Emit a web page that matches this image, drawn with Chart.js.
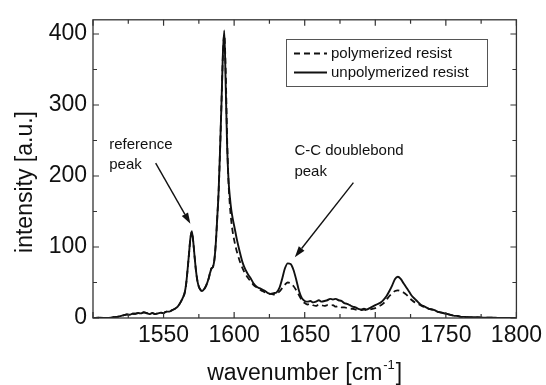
<!DOCTYPE html>
<html><head><meta charset="utf-8">
<script src="https://cdn.jsdelivr.net/npm/chart.js@4.4.0/dist/chart.umd.min.js"></script>
<style>html,body{margin:0;padding:0;background:#fff;}#wrap{width:546px;height:385px;}</style>
</head><body><div id="wrap"><canvas id="c" width="546" height="385"></canvas></div>
<script>
// wavenumber [cm^-1]
const wavenumbers = [
  1500,1505,1510,1514,1518,1520,1522,1524,1526,1528,
  1530,1532,1534,1536,1538,1540,1542,1544,1546,1548,
  1550,1552,1554,1556,1558,1560,1562,1564,
  1565,1566,1567,1568,1569,1570,1571,1572,1573,1574,
  1575,1576,1577,1578,1580,1582,1583,1584,1585,1586,
  1587,1588,1589,1590,1591,1592,1593,1594,1595,1596,
  1597,1598,1599,1600,1601,1602,
  1604,1606,1608,1610,1612,1614,1616,1618,1620,1622,
  1624,1626,1628,1630,1632,1634,1636,1638,1640,1642,
  1644,1646,1648,1650,1652,1654,1656,1658,1660,1662,
  1664,1666,1668,1670,1672,1674,1676,1678,1680,1682,
  1684,1686,1688,1690,1692,1694,1696,1698,1700,1702,
  1704,1706,1708,1710,1712,1714,1716,1718,1720,1722,
  1724,1726,1728,1730,1732,1734,1736,1738,1740,1742,
  1744,1746,1748,1750,1752,1754,1756,1758,1760,
  1764,1768,1772,1776,1780,1785,1790,1795,1800
];
const unpolymerized = [
  0,0.5,0,1,2,3,4,5,4.5,6,
  6,7,6.5,8,7,5.5,7,5.5,6.5,7.5,
  7,9,9,11,13,16,22,30,
  36,48,68,90,112,122,108,86,66,52,
  44,40,38,39,45,56,64,70,72,82,
  105,140,178,235,300,370,405,330,245,195,
  170,152,140,130,120,110,
  93,78,68,61,55,48,44,42,40,38,
  35,34,35,36,42,55,70,77,76,68,
  54,38,28,24,23,24,22,23,25,23,
  24,25,27,26,27,25,24,21,20,18,
  16,15,13,12,13,12,14,16,18,20,
  22,26,31,38,46,55,58,55,49,43,
  37,31,27,23,19,17,15,13,12,11,
  9,8,7,6,5,4,3,3,2,
  1.5,1,1,0.5,0.5,0.3,0,0.2,0
];
const polymerized = [
  0,0.5,0,1,2,3,4,5,4.5,6,
  6,7,6.5,8,7,5.5,7,5.5,6.5,7.5,
  7,9,9,11,13,16,22,30,
  36,48,68,90,112,122,108,86,66,52,
  44,40,38,39,45,56,64,70,72,82,
  105,140,178,235,300,368,399,350,255,192,
  158,136,121,110,101,93,
  80,70,62,56,51,46,43,40,38,36,
  34,34,33,34,37,42,47,50,49,45,
  39,32,25,21,19,20,18,17,19,18,
  17,18,17,18,16,17,15,15,14,13,
  13,12,12,11,12,11,12,13,14,16,
  18,21,26,31,35,38,39,38,36,33,
  29,25,22,20,18,16,14,13,12,11,
  9,8,7,6,5,4,3,3,2,
  1.5,1,1,0.5,0.5,0.3,0,0.2,0
];
const seriesNames = ['polymerized resist', 'unpolymerized resist'];
const xTickLabels = [1550, 1600, 1650, 1700, 1750, 1800];
const yTickLabels = [0, 100, 200, 300, 400];
const xMinorTicks = [1500,1525,1550,1575,1600,1625,1650,1675,1700,1725,1750,1775,1800];
const yMinorTicks = [0,50,100,150,200,250,300,350,400];

const FONT = "'Liberation Sans', Arial, Helvetica, sans-serif";
const INK = '#111';

// annotation texts anchored in data coordinates
const notes = [
  {lines: ['reference', 'peak'], at: [1511.5, 244.5], lineGap: 20.5,
   arrowFrom: [1544.4, 218], arrowTo: [1569, 132.6]},
  {lines: ['C-C doublebond', 'peak'], at: [1642.7, 235], lineGap: 20.5,
   arrowFrom: [1684.5, 190.6], arrowTo: [1643, 85.7]}
];

function arrow(ctx, x1, y1, x2, y2) {
  ctx.beginPath(); ctx.moveTo(x1, y1);
  const a = Math.atan2(y2 - y1, x2 - x1);
  const L = 11, W = 3.6;
  const bx = x2 - L * Math.cos(a), by = y2 - L * Math.sin(a);
  ctx.lineTo(bx, by); ctx.stroke();
  ctx.beginPath();
  ctx.moveTo(x2, y2);
  ctx.lineTo(bx + W * Math.sin(a), by - W * Math.cos(a));
  ctx.lineTo(bx - W * Math.sin(a), by + W * Math.cos(a));
  ctx.closePath(); ctx.fill();
}

const decor = {
  id: 'decor',
  afterDatasetsDraw(chart) {
    const {ctx, chartArea: ca, scales: {x, y}} = chart;
    ctx.save();
    // frame
    ctx.strokeStyle = '#333'; ctx.lineWidth = 1.3;
    ctx.strokeRect(ca.left, ca.top, ca.right - ca.left, ca.bottom - ca.top);
    // inward ticks
    ctx.lineWidth = 1.2; ctx.strokeStyle = '#333';
    ctx.beginPath();
    xMinorTicks.forEach(v => {
      const px = x.getPixelForValue(v);
      const len = v % 50 === 0 ? 6 : 4;
      ctx.moveTo(px, ca.bottom); ctx.lineTo(px, ca.bottom - len);
      ctx.moveTo(px, ca.top); ctx.lineTo(px, ca.top + len);
    });
    yMinorTicks.forEach(v => {
      const py = y.getPixelForValue(v);
      const len = v % 100 === 0 ? 6 : 4;
      ctx.moveTo(ca.left, py); ctx.lineTo(ca.left + len, py);
      ctx.moveTo(ca.right, py); ctx.lineTo(ca.right - len, py);
    });
    ctx.stroke();

    // legend
    const bx = 286.5, by = 39.5, bw = 201, bh = 47;
    ctx.fillStyle = '#fff'; ctx.fillRect(bx, by, bw, bh);
    ctx.strokeStyle = '#555'; ctx.lineWidth = 1; ctx.strokeRect(bx, by, bw, bh);
    const rows = [53.5, 72.5];
    chart.data.datasets.forEach((ds, i) => {
      ctx.strokeStyle = INK; ctx.lineWidth = 1.8;
      ctx.setLineDash(ds.borderDash || []);
      ctx.beginPath(); ctx.moveTo(294, rows[i]); ctx.lineTo(327, rows[i]); ctx.stroke();
      ctx.setLineDash([]);
      ctx.fillStyle = INK; ctx.font = '15px ' + FONT; ctx.textBaseline = 'middle'; ctx.textAlign = 'left';
      ctx.fillText(ds.label, 331, rows[i] + 0.5);
    });

    // annotations
    ctx.fillStyle = INK; ctx.strokeStyle = INK; ctx.lineWidth = 1.4;
    ctx.font = '15px ' + FONT; ctx.textBaseline = 'middle'; ctx.textAlign = 'left';
    notes.forEach(n => {
      const tx = x.getPixelForValue(n.at[0]), ty = y.getPixelForValue(n.at[1]);
      n.lines.forEach((t, k) => ctx.fillText(t, tx, ty + k * n.lineGap));
      arrow(ctx, x.getPixelForValue(n.arrowFrom[0]), y.getPixelForValue(n.arrowFrom[1]),
                 x.getPixelForValue(n.arrowTo[0]), y.getPixelForValue(n.arrowTo[1]));
    });

    // axis titles
    ctx.fillStyle = INK;
    ctx.font = '23px ' + FONT;
    ctx.save();
    ctx.translate(26, 182); ctx.rotate(-Math.PI / 2);
    ctx.textAlign = 'center'; ctx.textBaseline = 'middle';
    ctx.fillText('intensity [a.u.]', 0, 0);
    ctx.restore();

    const base = 380;
    const t1 = 'wavenumber [cm', sup = '-1', t2 = ']';
    ctx.font = '23px ' + FONT; const w1 = ctx.measureText(t1).width, w3 = ctx.measureText(t2).width;
    ctx.font = '13px ' + FONT; const w2 = ctx.measureText(sup).width;
    const total = w1 + w2 + w3 + 2;
    let sx = (ca.left + ca.right) / 2 - total / 2;
    ctx.textAlign = 'left'; ctx.textBaseline = 'alphabetic';
    ctx.font = '23px ' + FONT; ctx.fillText(t1, sx, base); sx += w1 + 1;
    ctx.font = '13px ' + FONT; ctx.fillText(sup, sx, base - 11); sx += w2 + 1;
    ctx.font = '23px ' + FONT; ctx.fillText(t2, sx, base);
    ctx.restore();
  }
};

new Chart(document.getElementById('c'), {
  type: 'line',
  data: {
    datasets: [
      {label: seriesNames[0], data: wavenumbers.map((w, i) => ({x: w, y: polymerized[i]})),
       borderColor: INK, borderWidth: 1.8, borderDash: [6, 4], pointRadius: 0, fill: false,
       cubicInterpolationMode: 'monotone'},
      {label: seriesNames[1], data: wavenumbers.map((w, i) => ({x: w, y: unpolymerized[i]})),
       borderColor: INK, borderWidth: 1.9, pointRadius: 0, fill: false,
       cubicInterpolationMode: 'monotone'}
    ]
  },
  options: {
    responsive: false, animation: false, devicePixelRatio: 1,
    layout: {padding: {top: 14, right: 27, left: 0, bottom: 0}},
    plugins: {legend: {display: false}, tooltip: {enabled: false}},
    scales: {
      x: {
        type: 'linear', min: 1500, max: 1800,
        afterFit: s => { s.height = 67; },
        afterBuildTicks: s => { s.ticks = xMinorTicks.map(v => ({value: v})); },
        grid: {display: false, drawTicks: false}, border: {display: false},
        ticks: {padding: 4, color: INK, font: {family: FONT, size: 23},
                maxRotation: 0, autoSkip: false,
                callback: v => xTickLabels.includes(v) ? String(v) : ''}
      },
      y: {
        min: 0, max: 420,
        afterFit: s => { s.width = 93; },
        afterBuildTicks: s => { s.ticks = yMinorTicks.map(v => ({value: v})); },
        grid: {display: false, drawTicks: false}, border: {display: false},
        ticks: {padding: 6, color: INK, font: {family: FONT, size: 23},
                autoSkip: false,
                callback: v => yTickLabels.includes(v) ? String(v) : ''}
      }
    }
  },
  plugins: [decor]
});
</script>
</body></html>
